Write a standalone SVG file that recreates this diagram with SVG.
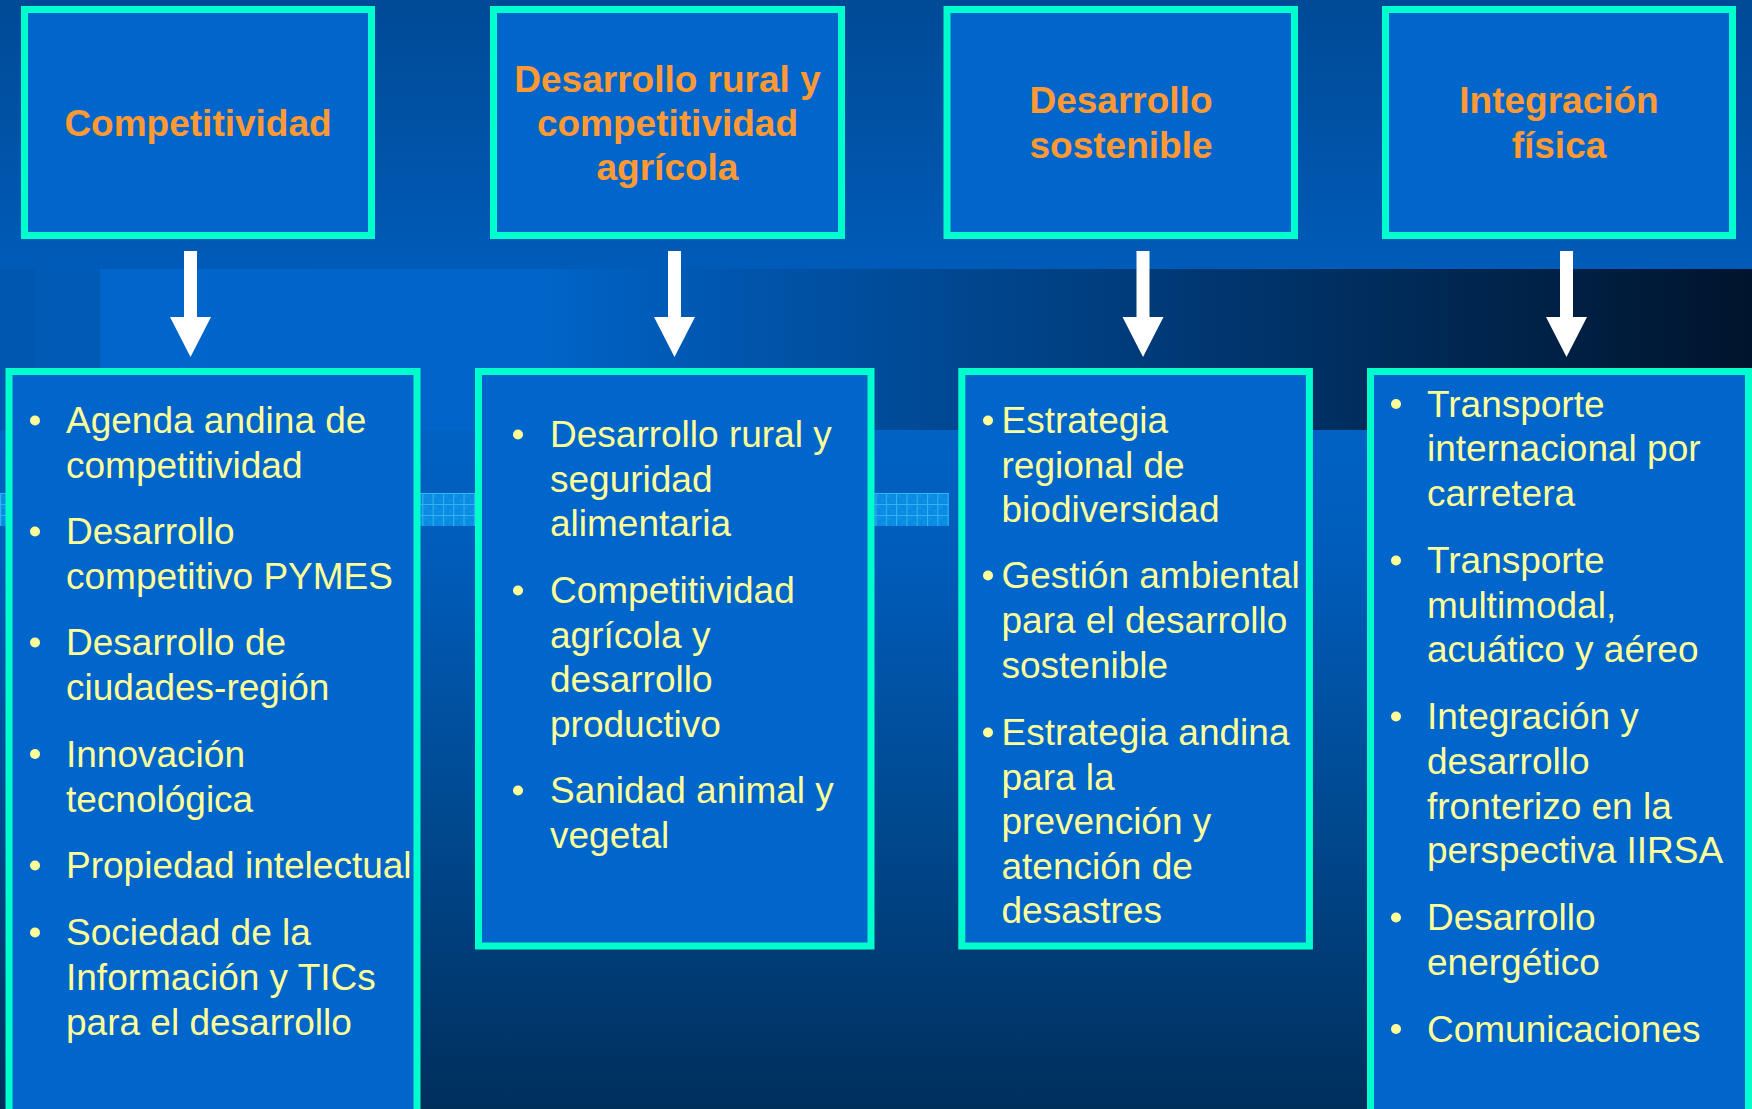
<svg xmlns="http://www.w3.org/2000/svg" width="1752" height="1109" viewBox="0 0 1752 1109">
  <defs>
    <linearGradient id="topBg" x1="0" y1="0" x2="0" y2="1">
      <stop offset="0" stop-color="#004a96"/>
      <stop offset="1" stop-color="#005bb8"/>
    </linearGradient>
    <linearGradient id="bandBg" x1="100" y1="0" x2="1752" y2="0" gradientUnits="userSpaceOnUse">
      <stop offset="0" stop-color="#0066cc"/>
      <stop offset="0.27" stop-color="#0064c8"/>
      <stop offset="0.36" stop-color="#0058b2"/>
      <stop offset="1" stop-color="#00142c"/>
    </linearGradient>
    <linearGradient id="lowBg" x1="0" y1="430" x2="0" y2="1109" gradientUnits="userSpaceOnUse">
      <stop offset="0" stop-color="#0062c4"/>
      <stop offset="0.19" stop-color="#005cba"/>
      <stop offset="0.62" stop-color="#00468a"/>
      <stop offset="1" stop-color="#002f5c"/>
    </linearGradient>
    <pattern id="grid" x="0" y="493" width="10.3" height="11" patternUnits="userSpaceOnUse">
      <rect width="10.3" height="11" fill="#0a8ae2"/>
      <rect x="2" y="2" width="3" height="3" fill="#1296e8" opacity="0.6"/>
      <rect x="6" y="6" width="3" height="3" fill="#1296e8" opacity="0.6"/>
      <path d="M0.5,0 V11 M0,0.5 H10.3" stroke="#30b4f2" stroke-width="1.2" fill="none"/>
    </pattern>
    <style>
      .box { fill: #0066cc; stroke: #00ffcc; stroke-width: 7; }
      .title { font-family: "Liberation Sans", Arial, sans-serif; font-weight: bold; font-size: 37px; fill: #ff9933; text-anchor: middle; }
      .item { font-family: "Liberation Sans", Arial, sans-serif; font-size: 37px; fill: #ffff99; }
      .dot { fill: #ffff99; }
      .arrow { fill: #ffffff; }
    </style>
  </defs>

  <!-- background -->
  <rect x="0" y="0" width="1752" height="269" fill="url(#topBg)"/>
  <rect x="0" y="269" width="100" height="161" fill="#005ab6"/>
  <rect x="0" y="269" width="35" height="161" fill="#0057b0"/>
  <rect x="100" y="269" width="1652" height="161" fill="url(#bandBg)"/>
  <rect x="0" y="430" width="1752" height="679" fill="url(#lowBg)"/>
  <rect x="0" y="493" width="949" height="33" fill="url(#grid)"/>

  <!-- connectors -->
  <g id="connectors">
    <path class="arrow" d="M184,251 H197 V317 H211 L190.5,357 L170,317 H184 Z"/>
    <path class="arrow" d="M668,251 H681 V317 H695 L674.5,357 L654,317 H668 Z"/>
    <path class="arrow" d="M1136.5,251 H1149.5 V317 H1163.5 L1143,357 L1122.5,317 H1136.5 Z"/>
    <path class="arrow" d="M1560,251 H1573 V317 H1587 L1566.5,357 L1546,317 H1560 Z"/>
  </g>

  <!-- top nodes -->
  <g id="node-competitividad">
    <rect class="box" x="24.5" y="9.5" width="347" height="226"/>
    <text class="title" x="198" y="136">Competitividad</text>
  </g>
  <g id="node-desarrollo-rural">
    <rect class="box" x="493.5" y="9.5" width="348" height="226"/>
    <text class="title" x="667.5" y="92">Desarrollo rural y</text>
    <text class="title" x="667.5" y="136">competitividad</text>
    <text class="title" x="667.5" y="180">agrícola</text>
  </g>
  <g id="node-desarrollo-sostenible">
    <rect class="box" x="947" y="9.5" width="347.5" height="226"/>
    <text class="title" x="1121" y="113">Desarrollo</text>
    <text class="title" x="1121" y="158">sostenible</text>
  </g>
  <g id="node-integracion-fisica">
    <rect class="box" x="1385.5" y="9.5" width="347" height="226"/>
    <text class="title" x="1559" y="113">Integración</text>
    <text class="title" x="1559" y="158">física</text>
  </g>

  <!-- bottom nodes -->
  <g id="node-list-competitividad">
    <rect class="box" x="9" y="371.5" width="408" height="760"/>
    <circle class="dot" cx="35" cy="420.5" r="5"/>
    <text class="item" x="66" y="433">Agenda andina de</text>
    <text class="item" x="66" y="477.5">competitividad</text>
    <circle class="dot" cx="35" cy="531.5" r="5"/>
    <text class="item" x="66" y="544">Desarrollo</text>
    <text class="item" x="66" y="588.5">competitivo PYMES</text>
    <circle class="dot" cx="35" cy="642.5" r="5"/>
    <text class="item" x="66" y="655">Desarrollo de</text>
    <text class="item" x="66" y="700">ciudades-región</text>
    <circle class="dot" cx="35" cy="754" r="5"/>
    <text class="item" x="66" y="766.5">Innovación</text>
    <text class="item" x="66" y="811.5">tecnológica</text>
    <circle class="dot" cx="35" cy="865.5" r="5"/>
    <text class="item" x="66" y="878">Propiedad intelectual</text>
    <circle class="dot" cx="35" cy="932.5" r="5"/>
    <text class="item" x="66" y="945">Sociedad de la</text>
    <text class="item" x="66" y="990">Información y TICs</text>
    <text class="item" x="66" y="1035">para el desarrollo</text>
  </g>
  <g id="node-list-rural">
    <rect class="box" x="478.5" y="371.5" width="392.5" height="574.5"/>
    <circle class="dot" cx="518" cy="434.5" r="5"/>
    <text class="item" x="550" y="447">Desarrollo rural y</text>
    <text class="item" x="550" y="491.5">seguridad</text>
    <text class="item" x="550" y="536">alimentaria</text>
    <circle class="dot" cx="518" cy="590.5" r="5"/>
    <text class="item" x="550" y="603">Competitividad</text>
    <text class="item" x="550" y="647.5">agrícola y</text>
    <text class="item" x="550" y="692">desarrollo</text>
    <text class="item" x="550" y="736.5">productivo</text>
    <circle class="dot" cx="518" cy="790.5" r="5"/>
    <text class="item" x="550" y="803">Sanidad animal y</text>
    <text class="item" x="550" y="848">vegetal</text>
  </g>
  <g id="node-list-sostenible">
    <rect class="box" x="961.8" y="371.5" width="347.6" height="574.5"/>
    <circle class="dot" cx="988" cy="420.5" r="5"/>
    <text class="item" x="1001.5" y="433">Estrategia</text>
    <text class="item" x="1001.5" y="477.5">regional de</text>
    <text class="item" x="1001.5" y="522">biodiversidad</text>
    <circle class="dot" cx="988" cy="575.5" r="5"/>
    <text class="item" x="1001.5" y="588">Gestión ambiental</text>
    <text class="item" x="1001.5" y="633">para el desarrollo</text>
    <text class="item" x="1001.5" y="677.5">sostenible</text>
    <circle class="dot" cx="988" cy="732.5" r="5"/>
    <text class="item" x="1001.5" y="745">Estrategia andina</text>
    <text class="item" x="1001.5" y="789.5">para la</text>
    <text class="item" x="1001.5" y="834">prevención y</text>
    <text class="item" x="1001.5" y="878.5">atención de</text>
    <text class="item" x="1001.5" y="923">desastres</text>
  </g>
  <g id="node-list-integracion">
    <rect class="box" x="1370.5" y="371.5" width="378" height="760"/>
    <circle class="dot" cx="1396" cy="404" r="5"/>
    <text class="item" x="1427" y="416.5">Transporte</text>
    <text class="item" x="1427" y="461">internacional por</text>
    <text class="item" x="1427" y="505.5">carretera</text>
    <circle class="dot" cx="1396" cy="560.5" r="5"/>
    <text class="item" x="1427" y="573">Transporte</text>
    <text class="item" x="1427" y="617.5">multimodal,</text>
    <text class="item" x="1427" y="662">acuático y aéreo</text>
    <circle class="dot" cx="1396" cy="716.5" r="5"/>
    <text class="item" x="1427" y="729">Integración y</text>
    <text class="item" x="1427" y="773.5">desarrollo</text>
    <text class="item" x="1427" y="818.5">fronterizo en la</text>
    <text class="item" x="1427" y="863">perspectiva IIRSA</text>
    <circle class="dot" cx="1396" cy="917.5" r="5"/>
    <text class="item" x="1427" y="930">Desarrollo</text>
    <text class="item" x="1427" y="975">energético</text>
    <circle class="dot" cx="1396" cy="1029" r="5"/>
    <text class="item" x="1427" y="1041.5">Comunicaciones</text>
  </g>
</svg>
